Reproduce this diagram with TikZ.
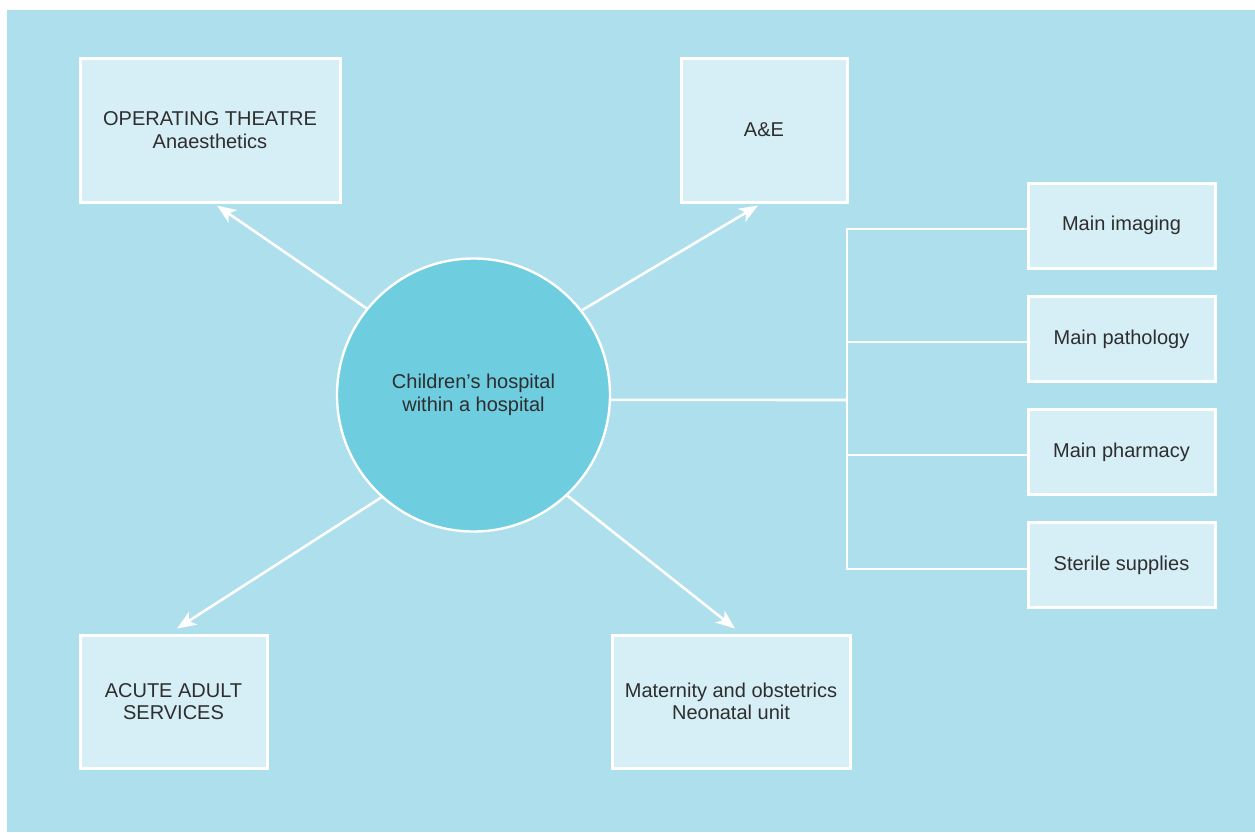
\documentclass[tikz,border=0pt]{standalone}
\usepackage{fontspec}
\setmainfont{Liberation Sans}
\usetikzlibrary{arrows.meta}
\definecolor{bgblue}{HTML}{AEDFEC}
\definecolor{boxfill}{HTML}{D6EEF5}
\definecolor{circfill}{HTML}{6FCDE0}
\definecolor{txt}{HTML}{2E2E2E}
\tikzset{
  box/.style={draw=white, line width=1.5pt, fill=boxfill, align=center, text=txt,
    font=\fontsize{10}{11.2}\selectfont, inner sep=0pt},
  hub/.style={circle, draw=white, line width=1.2pt, fill=circfill, align=center, text=txt,
    font=\fontsize{10}{11.2}\selectfont, minimum size=136.5pt, inner sep=0pt},
  conn/.style={draw=white, line width=1.3pt},
  arr/.style={conn, -{Stealth[length=9.5pt,width=7.5pt,inset=2.5pt]}},
}
\begin{document}
\begin{tikzpicture}[x=0.5pt,y=-0.5pt]
\fill[white] (0,0) rectangle (1255,832);
\useasboundingbox (0,0) rectangle (1255,832);
\fill[bgblue] (7,10) rectangle (1255,832);

\node[hub] (c) at (473.5,395) {Children’s hospital\\within a hospital};

\node[box, minimum width=130pt, minimum height=72pt] (op) at (210,130) {OPERATING THEATRE\\Anaesthetics};
\node[box, minimum width=83pt, minimum height=72pt] (ae) at (764,130) {A\&E};
\node[box, minimum width=93.5pt, minimum height=66.5pt] (acute) at (173.5,701.5) {ACUTE ADULT\\SERVICES};
\node[box, minimum width=119pt, minimum height=66.5pt] (mat) at (731,701.5) {Maternity and obstetrics\\Neonatal unit};

\node[box, minimum width=93.5pt, minimum height=42.5pt] (img) at (1121.5,225.5) {Main imaging};
\node[box, minimum width=93.5pt, minimum height=42.5pt] (path) at (1121.5,339) {Main pathology};
\node[box, minimum width=93.5pt, minimum height=42.5pt] (pharm) at (1121.5,452) {Main pharmacy};
\node[box, minimum width=93.5pt, minimum height=42.5pt] (ster) at (1121.5,565) {Sterile supplies};

\draw[arr] (c.141.3) -- ([shift={(7,2)}]op.south);
\draw[arr] (c.38.9) -- ([shift={(-6,2)}]ae.south);
\draw[arr] (c.228.9) -- ([shift={(3.5,-5)}]acute.north);
\draw[arr] (c.313) -- ([shift={(4,-5)}]mat.north);

\coordinate (j) at (847,400);
\coordinate (j1) at (847,229);
\coordinate (j2) at (847,342);
\coordinate (j3) at (847,455);
\coordinate (j4) at (847,569);
\draw[conn] (c.-2) -- (j);
\draw[conn] (img.west |- j1) -- (j1) -- (j4) -- (ster.west |- j4);
\draw[conn] (j2) -- (path.west |- j2);
\draw[conn] (j3) -- (pharm.west |- j3);
\end{tikzpicture}
\end{document}
